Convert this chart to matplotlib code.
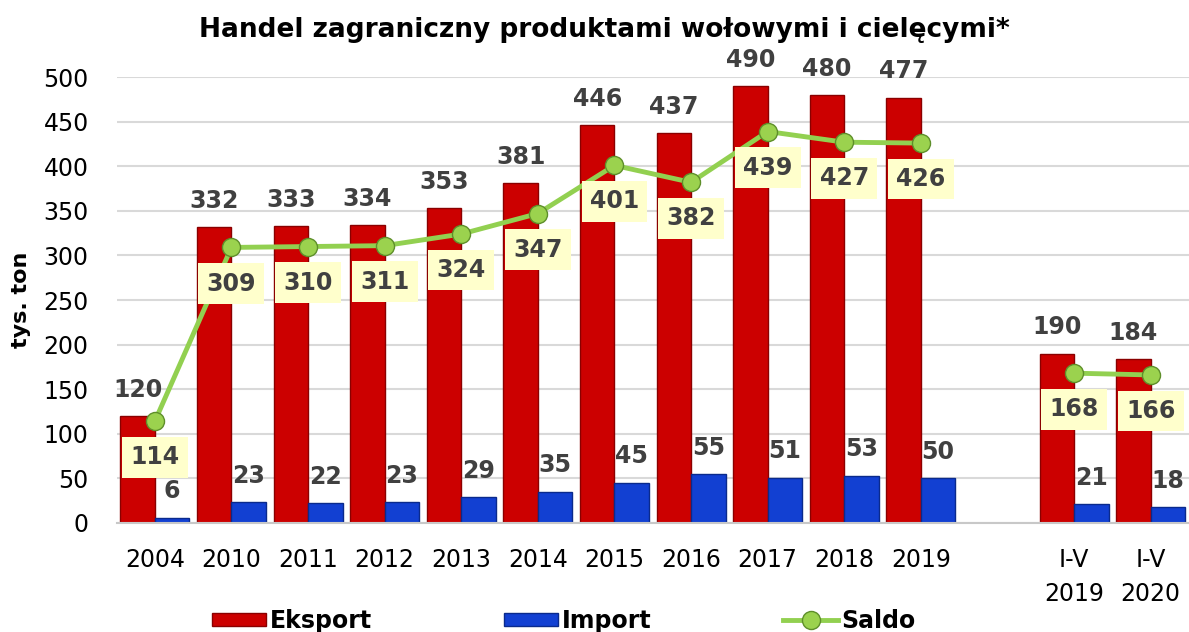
import numpy as np
from matplotlib import pyplot as plt
from matplotlib.patches import Patch
from matplotlib.lines import Line2D

# data
categories = ['2004', '2010', '2011', '2012', '2013', '2014', '2015', '2016',
              '2017', '2018', '2019', 'I-V\n2019', 'I-V\n2020']
eksport = [120, 332, 333, 334, 353, 381, 446, 437, 490, 480, 477, 190, 184]
import_ = [6, 23, 22, 23, 29, 35, 45, 55, 51, 53, 50, 21, 18]
saldo = [114, 309, 310, 311, 324, 347, 401, 382, 439, 427, 426, 168, 166]

# positions: 11 yearly groups, one empty slot, then the two I-V groups
pos = np.array(list(range(11)) + [12, 13])
yearly = pos < 11
partial = ~yearly

RED, RED_EDGE = '#CC0000', '#8A0000'
BLUE, BLUE_EDGE = '#1240D2', '#0A2A8C'
GREEN, GREEN_EDGE = '#92D050', '#5E8F2A'
LABEL = '#404040'

plt.rcParams['font.family'] = ['DejaVu Sans']

fig = plt.figure(figsize=(11.89, 6.32), dpi=100)
ax = fig.add_axes([0.098, 0.1725, 0.902, 0.7055])

w = 0.45
ax.bar(pos - w / 2, eksport, width=w, color=RED, edgecolor=RED_EDGE, linewidth=1, zorder=2)
ax.bar(pos + w / 2, import_, width=w, color=BLUE, edgecolor=BLUE_EDGE, linewidth=1, zorder=2)

for mask in (yearly, partial):
    ax.plot(pos[mask], np.array(saldo)[mask], color=GREEN, lw=3.5, marker='o', ms=13,
            mfc='#9BD24E', mec=GREEN_EDGE, mew=1, zorder=3)

lbl = dict(fontsize=17, fontweight='bold', color=LABEL, ha='center', va='center',
           textcoords='offset points', annotation_clip=False)
for x, e, i, s in zip(pos, eksport, import_, saldo):
    ax.annotate(str(e), (x - w / 2, e), xytext=(0, 19), zorder=5, **lbl)
    ax.annotate(str(i), (x + w / 2, i), xytext=(0, 19), zorder=5, **lbl)
    ax.annotate(str(s), (x, s), xytext=(0, -26), zorder=6,
                bbox=dict(boxstyle='square,pad=0.35', fc='#FFFFCC', ec='none'), **lbl)

ax.set_xlim(-0.5, 13.5)
ax.set_ylim(0, 500)
ax.set_yticks(range(0, 501, 50))
ax.set_xticks(pos)
ax.set_xticklabels(categories, fontsize=17, linespacing=1.55)
ax.tick_params(axis='y', labelsize=17, length=0, pad=20)
ax.tick_params(axis='x', length=0, pad=18)
ax.yaxis.grid(True, color='#D9D9D9', lw=1.5, zorder=0)
ax.set_axisbelow(True)
for side in ('left', 'right', 'top'):
    ax.spines[side].set_visible(False)
ax.spines['bottom'].set_color('#C8C8C8')
ax.spines['bottom'].set_linewidth(1.5)

ax.set_ylabel('tys. ton', fontsize=16, fontweight='bold', labelpad=9)
fig.text(0.508, 0.953, 'Handel zagraniczny produktami wołowymi i cielęcymi*',
         ha='center', va='center', fontsize=19, fontweight='bold')

handles = [Patch(facecolor=RED, edgecolor=RED_EDGE, label='Eksport'),
           Patch(facecolor=BLUE, edgecolor=BLUE_EDGE, label='Import'),
           Line2D([], [], color=GREEN, lw=3.5, marker='o', ms=13, mfc='#9BD24E',
                  mec=GREEN_EDGE, label='Saldo')]
fig.legend(handles=handles, loc='center', bbox_to_anchor=(0.474, 0.018), ncol=3,
           frameon=False, prop=dict(size=17, weight='bold'), handlelength=2.3,
           handleheight=0.5, handletextpad=0.15, columnspacing=5.6)

fig.savefig('out.png', dpi=100)
